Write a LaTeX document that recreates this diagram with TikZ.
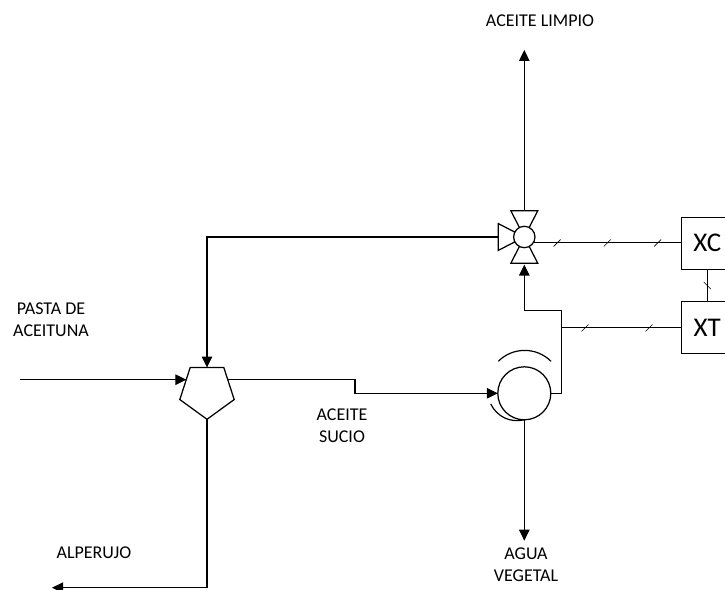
\documentclass[tikz,border=0pt]{standalone}
\usepackage{fontspec}
\setmainfont{Carlito}
\usetikzlibrary{positioning, arrows.meta, shapes.geometric, decorations.markings, backgrounds}

\begin{document}
\begin{tikzpicture}[
        x=1pt, y=1pt,
        on grid,
        font=\fontsize{18}{22}\selectfont,
        % Styles
        unit/.style={draw=black, fill=white, line width=1.25pt, inner sep=0pt, outer sep=0pt},
        instrument/.style={draw=black, fill=white, line width=1pt, minimum width=52pt, minimum height=52pt, inner sep=0pt, outer sep=0pt, font=\fontsize{27}{27}\selectfont},
        tag/.style={align=center, inner sep=0pt},
        flow/.style={-{Triangle[length=11pt, width=10.5pt]}, line width=1.2pt, draw=black},
        pipe/.style={line width=1.2pt, draw=black},
        signal/.style={line width=1pt, draw=black},
        slash/.style={postaction={decorate, decoration={markings, mark=at position #1 with {\draw[line width=0.6pt] (-3.5,-3.5) -- (3.5,3.5);}}}}
    ]

    \useasboundingbox (0,0) rectangle (725,589);

    % Separator and pump
    \node[unit, regular polygon, regular polygon sides=5, shape border rotate=180, minimum size=57.2pt] (decanter) at (207,198.3) {};
    \node[unit, circle, minimum size=53pt, right=317.3pt of decanter, yshift=-2.6pt] (centrifuge) {};
    \node[unit, circle, minimum size=21.4pt, above=156.3pt of centrifuge] (valve) {};

    % Valve body
    \begin{scope}[on background layer]
        \draw[unit] (valve.center) -- ++(-13.5,26.3) -- ++(27,0) -- cycle;
        \draw[unit] (valve.center) -- ++(-13.5,-26.3) -- ++(27,0) -- cycle;
        \draw[unit] (valve.center) -- ++(-26,13.4) -- ++(0,-26.8) -- cycle;
    \end{scope}
    \coordinate[above=26.3pt of valve.center] (valvetop);
    \coordinate[below=27.6pt of valve.center] (valvebottom);
    \coordinate[left=26pt of valve.center] (valveleft);

    % Instruments
    \node[instrument, right=183pt of valve, yshift=-6.2pt] (xc) {XC};
    \node[instrument, below=84.8pt of xc] (xt) {XT};
    \draw[signal, slash=0.5] (xc.south) -- (xt.north);
    \draw[signal, slash=0.162, slash=0.5, slash=0.84] (valve.-34) -- (valve.-34 -| xc.west);

    % Process lines
    \coordinate[left=187pt of decanter.center, yshift=11pt] (feedin);
    \coordinate[above=187pt of valve.center] (cleanout);
    \coordinate[below=147.4pt of centrifuge.center] (waterout);
    \coordinate[below=197pt of decanter.center, xshift=-155pt] (pomaceout);
    \coordinate[right=148pt of decanter.center, yshift=11pt] (dirtybend);
    \coordinate[right=37.4pt of centrifuge] (rise);
    \coordinate[above=82.6pt of rise] (risetop);

    \draw[flow] (valvetop) -- (cleanout);
    \draw[flow] (valveleft) -| (decanter.north);
    \draw[flow] (feedin) -- (feedin -| decanter.151);
    \draw[flow] (feedin -| decanter.29) -- (dirtybend) |- (centrifuge.west);
    \draw[flow] (decanter.south) |- (pomaceout);
    \draw[flow] (centrifuge.south) -- (waterout);
    \draw[flow] (centrifuge.east) -- (rise) -- (risetop) -| (valvebottom);
    \draw[signal, slash=0.195, slash=0.73] (rise |- xt.west) -- (xt.west);

    % Pump rotation arcs
    \draw[pipe] ([shift={(-26,32)}]centrifuge.center) to[bend left=45] ([shift={(26.7,32)}]centrifuge.center);
    \draw[pipe] ([shift={(-33.6,-10.7)}]centrifuge.center) to[bend right=38] (centrifuge.south);

    % Labels
    \node[tag, above=29pt of cleanout, anchor=center, xshift=15.7pt] (cleanlabel) {ACEITE LIMPIO};
    \node[tag, above=60pt of feedin, anchor=center, xshift=31pt] (feedlabel) {PASTA DE\\ACEITUNA};
    \node[tag, below=46.5pt of dirtybend, anchor=center, xshift=-13pt] (dirtylabel) {ACEITE\\SUCIO};
    \node[tag, below=23.6pt of waterout, anchor=center, xshift=1.7pt] (waterlabel) {AGUA\\VEGETAL};
    \node[tag, above=34.7pt of pomaceout, anchor=center, xshift=42pt] (pomacelabel) {ALPERUJO};

\end{tikzpicture}
\end{document}
